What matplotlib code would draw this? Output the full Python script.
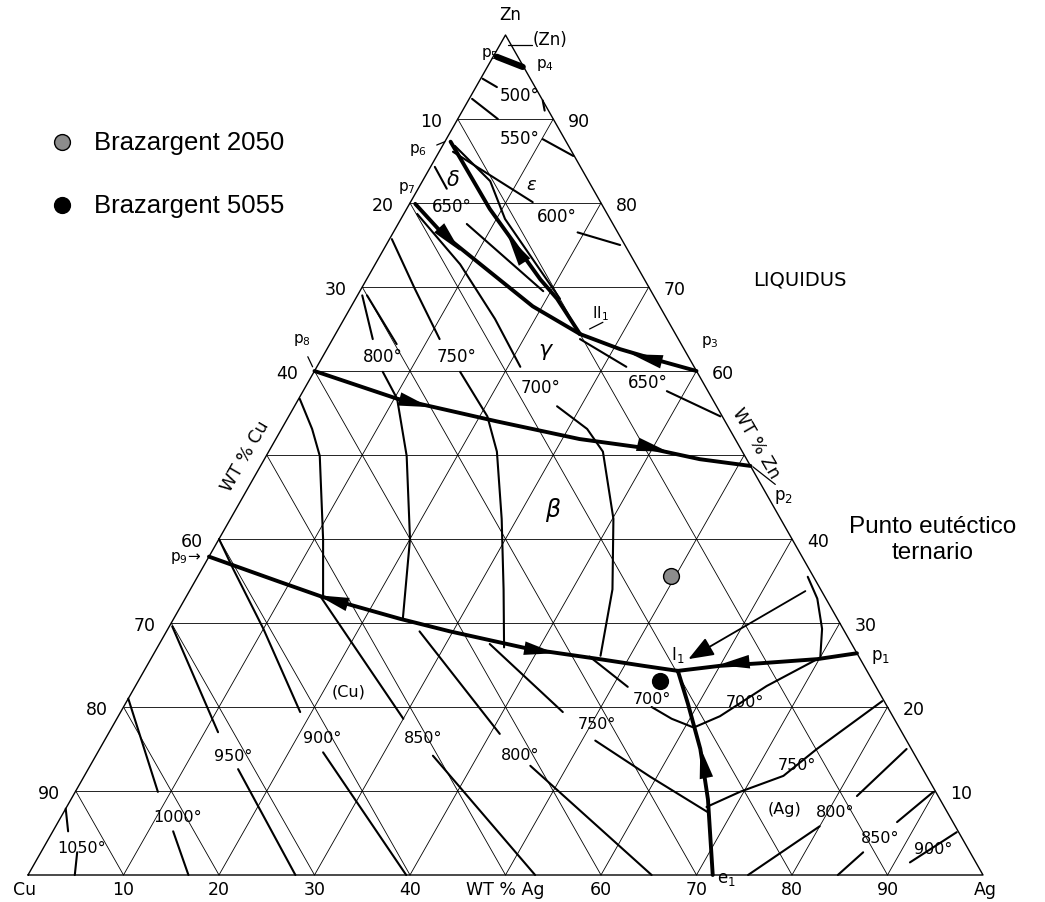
import numpy as np
import matplotlib.pyplot as plt

plt.rcParams['font.family'] = ['DejaVu Sans']

# ==========================================
# Compositions, wt% (Ag, Zn); Cu = 100 - Ag - Zn
# ==========================================
# liquidus valleys (heavy lines)
p5_p4 = [(0.4, 97.4), (3.7, 96.2)]
p7_II1 = [(0.6, 79.9), (5.3, 76.3), (13.9, 70.9), (19.0, 67.7), (25.6, 64.4)]
p6_II1 = [(0.6, 87.3), (8.7, 79.3), (18.2, 70.9), (21.1, 68.6), (25.6, 64.4)]
II1_p3 = [(25.6, 64.4), (30.7, 62.6), (35.6, 61.2), (40.0, 60.0)]
p8_p2 = [(0.0, 60.0), (10.3, 56.7), (22.1, 54.0), (31.8, 51.9), (40.1, 50.7),
         (45.6, 49.5), (51.3, 48.7)]
p9_I1 = [(0.0, 37.9), (8.9, 34.9), (14.3, 33.1), (23.7, 30.5), (29.7, 29.0),
         (39.1, 26.9), (47.0, 25.7), (52.0, 24.9), (55.9, 24.3)]
p1_I1 = [(73.6, 26.4), (69.8, 25.7), (64.0, 25.2), (60.0, 24.9), (55.9, 24.3)]
I1_e1 = [(55.9, 24.3), (58.9, 20.4), (62.9, 15.0), (66.7, 9.0), (71.7, 0.0)]

# arrow heads on the valleys: (tail Ag, tail Zn, tip Ag, tip Zn)
valley_arrows = [(4.2, 77.3, 8.1, 74.3),
                 (15.8, 72.7, 12.2, 76.1),
                 (36.2, 61.0, 32.2, 62.0),
                 (11.2, 56.5, 14.2, 55.7),
                 (38.5, 51.2, 41.8, 50.4),
                 (17.05, 32.3, 13.7, 33.3),
                 (38.5, 27.0, 42.0, 26.4),
                 (62.9, 25.4, 59.8, 25.0),
                 (65.5, 11.2, 62.8, 15.2)]

# isotherms and phase boundaries (medium lines)
iso_500a = [(0.2, 94.8), (2.2, 93.8)]
iso_500b = [(0.3, 92.4), (4.2, 90.0)]
iso_500c = [(7.8, 92.2), (8.6, 91.0)]
iso_550 = [(10.1, 87.6), (14.3, 85.6)]
iso_eps = [(1.45, 86.1), (12.8, 80.1)]
iso_p6b = [(1.3, 86.8), (7.1, 82.6), (10.9, 78.1), (21.4, 68.6)]
iso_delta = [(0.45, 84.3), (3.0, 81.7)]
iso_600 = [(19.3, 76.5), (24.5, 75.0)]
iso_mid = [(7.2, 77.5), (19.2, 69.5)]
iso_700a = [(1.4, 78.7), (8.9, 72.7), (15.8, 66.2), (21.3, 60.5)]
iso_750a = [(0.25, 75.7), (5.6, 69.8), (11.2, 63.8)]
iso_800a = [(0.5, 69.0), (4.2, 63.8)]
iso_800b = [(1.0, 69.0), (7.0, 63.2)]
iso_650a = [(25.9, 63.8), (32.4, 60.5)]
iso_650b = [(38.1, 57.6), (45.2, 54.6)]
beta_1 = [(0.1, 56.7), (3.2, 53.1), (5.6, 49.9), (10.9, 40.0), (14.3, 33.2)]
beta_2 = [(7.2, 59.9), (10.3, 56.7), (14.7, 49.9), (20.0, 40.0), (24.0, 30.5)]
beta_3 = [(15.3, 59.9), (20.8, 54.6), (23.9, 50.4), (28.4, 42.4), (32.8, 34.0), (36.3, 27.1)]
beta_4 = [(27.5, 55.8), (32.0, 53.1), (35.0, 50.4), (40.1, 42.4), (44.2, 34.0), (46.9, 26.1)]
ag_1 = [(63.9, 35.5), (66.2, 32.9), (68.5, 29.3), (70.1, 25.7)]
iso_700b = [(45.8, 26.0), (51.6, 22.4)]
iso_700c = [(55.3, 20.0), (58.1, 18.6), (60.8, 17.6)]
iso_700d = [(69.8, 25.7), (66.1, 22.5), (63.0, 18.9), (61.0, 17.6)]
iso_750b = [(51.4, 16.0), (59.3, 11.7), (67.4, 7.5)]
iso_750c = [(67.0, 8.1), (69.6, 9.9), (73.2, 11.8), (75.1, 15.0), (79.1, 20.7)]
iso_800c = [(82.1, 9.4), (84.5, 15.0)]
iso_850c = [(87.85, 6.3), (89.85, 9.9)]
iso_900c = [(91.6, 1.5), (94.7, 5.1)]
iso_800d = [(75.4, 0.0), (80.0, 5.8)]
iso_850d = [(84.8, 0.0), (86.1, 2.7)]
iso_1050a = [(0.0, 7.9), (1.6, 5.2)]
iso_1050b = [(3.8, 2.7), (4.9, 0.0)]
iso_1000a = [(0.0, 21.0), (8.65, 9.9)]
iso_1000b = [(12.6, 5.2), (16.8, 0.0)]
iso_950a = [(0.3, 29.6), (11.4, 17.0)]
iso_950b = [(15.7, 12.6), (28.0, 0.0)]
iso_900a = [(0.0, 40.0), (3.3, 36.4), (10.0, 29.3), (18.8, 19.4)]
iso_900b = [(23.6, 14.6), (39.6, 0.0)]
iso_850a = [(14.0, 33.2), (30.0, 18.6)]
iso_850b = [(35.3, 14.2), (53.1, 0.0)]
iso_800m = [(26.5, 29.0), (41.0, 16.8)]
iso_800n = [(46.1, 13.0), (65.3, 0.0)]
iso_750m = [(34.6, 27.5), (46.3, 19.4)]

# small pointer strokes next to labels
pointers = [[(51.6, 48.6), (55.0, 46.5)],
            [(-0.65, 86.9), (0.0, 87.3)],
            [(-1.55, 61.7), (-0.45, 60.5)],
            [(26.3, 65.0), (27.3, 65.8)],
            [(0.9, 98.8), (3.4, 98.8)]]

# diagram labels: (text, Ag, Zn, size)
labels = [("500°", 5.0, 92.9, 12), ("550°", 7.6, 87.7, 12), ("650°", 4.6, 79.6, 12),
          ("600°", 16.1, 78.5, 12), (r"$\delta$", 3.0, 82.9, 15), (r"$\epsilon$", 11.6, 82.3, 13),
          ("800°", 6.3, 61.8, 12), ("750°", 14.0, 61.8, 12), (r"$\gamma$", 23.1, 62.4, 16),
          ("700°", 24.6, 58.1, 12), ("650°", 35.5, 58.7, 12), (r"II$_1$", 26.4, 67.0, 11),
          (r"$\beta$", 33.2, 43.6, 17), ("(Cu)", 22.6, 21.9, 11.5), ("1050°", 4.0, 3.3, 11.5),
          ("1000°", 12.2, 7.0, 11.5), ("950°", 14.4, 14.2, 11.5), ("900°", 22.6, 16.4, 11.5),
          ("850°", 33.2, 16.4, 11.5), ("800°", 44.4, 14.3, 11.5), ("750°", 50.6, 18.0, 11.5),
          ("700°", 54.8, 21.0, 11.5), ("700°", 64.8, 20.6, 11.5), ("750°", 73.9, 13.2, 11.5),
          ("(Ag)", 75.3, 7.9, 11.5), ("800°", 80.8, 7.5, 11.5), ("850°", 87.0, 4.5, 11.5),
          ("900°", 93.2, 3.1, 11.5), (r"I$_1$", 54.9, 26.3, 12), (r"p$_1$", 76.2, 26.1, 12),
          (r"e$_1$", 73.3, -0.3, 12), (r"p$_2$", 56.6, 45.1, 12), (r"p$_3$", 39.6, 63.6, 11),
          (r"p$_4$", 5.9, 96.5, 11), (r"p$_5$", -0.6, 97.9, 11), (r"p$_6$", -2.4, 86.4, 11),
          (r"p$_7$", -1.3, 81.9, 11), (r"p$_8$", -3.2, 63.8, 11), (r"p$_9$→", -2.4, 37.9, 11),
          ("(Zn)", 4.9, 99.5, 12), ("LIQUIDUS", 45.3, 71.0, 14)]

# scale labels
tick_values = [10, 20, 30, 40, 60, 70, 80, 90]

# brazing alloys
alloy_names = ["Brazargent 2050", "Brazargent 5055"]
alloy_ag = [49.5, 54.6]
alloy_zn = [35.6, 23.1]
alloy_colors = ["#8c8c8c", "black"]

# ternary eutectic callout
eutectic_tip = (56.3, 25.7)
eutectic_tail = (64.5, 33.8)


def tern(ag, zn):
    return float(ag) + float(zn) / 2.0, float(zn)


def draw(ax, pts, lw):
    a = np.array(pts, float)
    ax.plot(a[:, 0] + a[:, 1] / 2.0, a[:, 1], color='black', lw=lw,
            solid_capstyle='round', solid_joinstyle='round', clip_on=False)


fig = plt.figure(figsize=(10.45, 9.03), dpi=100)
ax = fig.add_axes([28 / 1045, 27 / 903, 955 / 1045, 840 / 903])
ax.set_xlim(0, 100)
ax.set_ylim(0, 100)
ax.axis('off')

# grid
for v in range(10, 100, 10):
    draw(ax, [(0, v), (100 - v, v)], 0.6)
    draw(ax, [(v, 0), (v, 100 - v)], 0.6)
    draw(ax, [(100 - v, 0), (0, 100 - v)], 0.6)
draw(ax, [(0, 0), (100, 0), (0, 100), (0, 0)], 1.0)

# isotherms
for c in [iso_500a, iso_500b, iso_500c, iso_550, iso_eps, iso_p6b, iso_delta, iso_600,
          iso_mid, iso_700a, iso_750a, iso_800a, iso_800b, iso_650a, iso_650b,
          beta_1, beta_2, beta_3, beta_4, ag_1, iso_700b, iso_700c, iso_700d,
          iso_750b, iso_750c, iso_800c, iso_850c, iso_900c, iso_800d, iso_850d,
          iso_1050a, iso_1050b, iso_1000a, iso_1000b, iso_950a, iso_950b,
          iso_900a, iso_900b, iso_850a, iso_850b, iso_800m, iso_800n, iso_750m]:
    draw(ax, c, 1.5)
for c in pointers:
    draw(ax, c, 0.9)

# valleys
for c in [p7_II1, p6_II1, II1_p3, p8_p2, p9_I1, p1_I1, I1_e1]:
    draw(ax, c, 2.8)
draw(ax, p5_p4, 4.5)
for ta, tz, ha_, hz in valley_arrows:
    ax.annotate('', xy=tern(ha_, hz), xytext=tern(ta, tz),
                arrowprops=dict(arrowstyle='-|>,head_length=1.6,head_width=0.35',
                                color='black', lw=0.01, shrinkA=0, shrinkB=0,
                                mutation_scale=14))

# labels inside the diagram
for txt, a, z, fs in labels:
    ax.text(*tern(a, z), txt, fontsize=fs, ha='center', va='center')

# scales
for v in tick_values:
    ax.annotate(str(v), xy=tern(v, 0), xytext=(0, -14), textcoords='offset pixels',
                ha='center', va='center', fontsize=12.5)
    ax.annotate(str(v), xy=tern(0, 100 - v), xytext=(-27, -2), textcoords='offset pixels',
                ha='center', va='center', fontsize=12.5)
    ax.annotate(str(v), xy=tern(100 - v, v), xytext=(26, -2), textcoords='offset pixels',
                ha='center', va='center', fontsize=12.5)
ax.annotate("WT % Ag", xy=tern(50, 0), xytext=(0, -14), textcoords='offset pixels',
            ha='center', va='center', fontsize=12.5)
ax.annotate("WT % Cu", xy=tern(0, 50), xytext=(-21, 0), textcoords='offset pixels',
            ha='center', va='center', fontsize=12.5, rotation=60)
ax.annotate("WT % Zn", xy=tern(48.5, 51.5), xytext=(19, 0), textcoords='offset pixels',
            ha='center', va='center', fontsize=12.5, rotation=-60)
ax.annotate("Cu", xy=tern(0, 0), xytext=(-3, -14), textcoords='offset pixels',
            ha='center', va='center', fontsize=12.5)
ax.annotate("Ag", xy=tern(100, 0), xytext=(2, -14), textcoords='offset pixels',
            ha='center', va='center', fontsize=12.5)
ax.annotate("Zn", xy=tern(0, 100), xytext=(5, 21), textcoords='offset pixels',
            ha='center', va='center', fontsize=12)

# alloys
handles = []
for name, a, z, col in zip(alloy_names, alloy_ag, alloy_zn, alloy_colors):
    x, y = tern(a, z)
    h = ax.scatter([x], [y], s=130, color=col, edgecolor='black', linewidth=1,
                   zorder=5, clip_on=False, label=name)
    handles.append(h)
ax.legend(handles=handles, loc='upper left', bbox_to_anchor=(49 / 1045, 1 - 131 / 903),
          bbox_transform=fig.transFigure, frameon=False,
          prop={'family': ['Liberation Sans'], 'size': 18.5},
          handlelength=1.0, handletextpad=0.75, labelspacing=1.52, borderpad=0,
          borderaxespad=0, scatterpoints=1)

# ternary eutectic callout
ax.annotate('', xy=tern(*eutectic_tip), xytext=tern(*eutectic_tail), annotation_clip=False,
            arrowprops=dict(arrowstyle='-|>,head_length=1.3,head_width=0.5',
                            color='black', lw=1.3, shrinkA=0, shrinkB=0,
                            mutation_scale=12))
fig.text(933 / 1045, 1 - 540 / 903, "Punto eutéctico\nternario", ha='center', va='center',
         fontsize=17.5, family=['Liberation Sans'], linespacing=1.28)

fig.savefig('out.png', dpi=100)
